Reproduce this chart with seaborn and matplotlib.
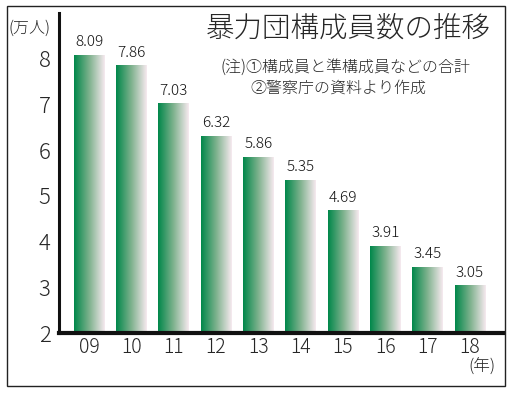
import numpy as np
import pandas as pd
import matplotlib
matplotlib.use("Agg")
import matplotlib.pyplot as plt
from matplotlib.colors import LinearSegmentedColormap
from matplotlib.patches import Rectangle
import seaborn as sns

years = ["09", "10", "11", "12", "13", "14", "15", "16", "17", "18"]
values = [8.09, 7.86, 7.03, 6.32, 5.86, 5.35, 4.69, 3.91, 3.45, 3.05]
yticks = [2, 3, 4, 5, 6, 7, 8]

sns.set_theme(style="white")
plt.rcParams['font.family'] = ['Noto Sans CJK JP', 'DejaVu Sans']
plt.rcParams['font.weight'] = 'light'

df = pd.DataFrame({"year": years, "value": values})

fig = plt.figure(figsize=(5.12, 3.93), dpi=100)
ax = fig.add_axes([59/512, 1-333/393, (503-59)/512, (333-13)/393])

sns.barplot(data=df, x="year", y="value", ax=ax, width=0.72, color="#00874a",
            saturation=1, edgecolor="none")
ax.set_ylim(2, 9)
ax.set_xlim(-0.71, 9.78)

cmap = LinearSegmentedColormap.from_list("g", ["#00874a", "#7fb28e", "#f7eaf0"])
grad = np.linspace(0, 1, 256).reshape(1, -1)
for p in list(ax.patches):
    x0, y0 = p.get_x(), p.get_y()
    w, h = p.get_width(), p.get_height()
    im = ax.imshow(grad, cmap=cmap, aspect="auto", extent=[x0, x0 + w, 2, y0 + h],
                   zorder=p.get_zorder() + 0.1)
    im.set_clip_path(p)
    ax.text(x0 + w / 2, y0 + h + 0.12, f"{h:.2f}", ha="center", va="bottom",
            fontsize=11, color="#111111")

ax.set_yticks(yticks)
ax.set_yticklabels([str(t) for t in yticks], fontsize=16)
ax.tick_params(axis="x", labelsize=14, length=0, pad=3)
ax.tick_params(axis="y", length=0, pad=6)
ax.set_xlabel("")
ax.set_ylabel("")
for s in ["top", "right"]:
    ax.spines[s].set_visible(False)
ax.spines["left"].set_linewidth(2.2)
ax.spines["bottom"].set_linewidth(3)
ax.spines["left"].set_color("#111111")
ax.spines["bottom"].set_color("#111111")

fig.text(8/512, 1-28/393, "(万人)", fontsize=11.5, va="center", ha="left")
fig.text(496/512, 1-367/393, "(年)", fontsize=12, va="center", ha="right")
fig.text(348/512, 1-28/393, "暴力団構成員数の推移", fontsize=20.5, va="center", ha="center")
fig.text(221/512, 1-67/393, "(注)①構成員と準構成員などの合計", fontsize=11.5, va="center", ha="left")
fig.text(250/512, 1-88/393, "②警察庁の資料より作成", fontsize=11.5, va="center", ha="left")

fig.patches.append(Rectangle((6.5/512, 1-385.5/393), (505-6.5)/512, (385.5-6)/393,
                             transform=fig.transFigure, fill=False, edgecolor="#222222", lw=1))

fig.savefig("out.png", dpi=100)
